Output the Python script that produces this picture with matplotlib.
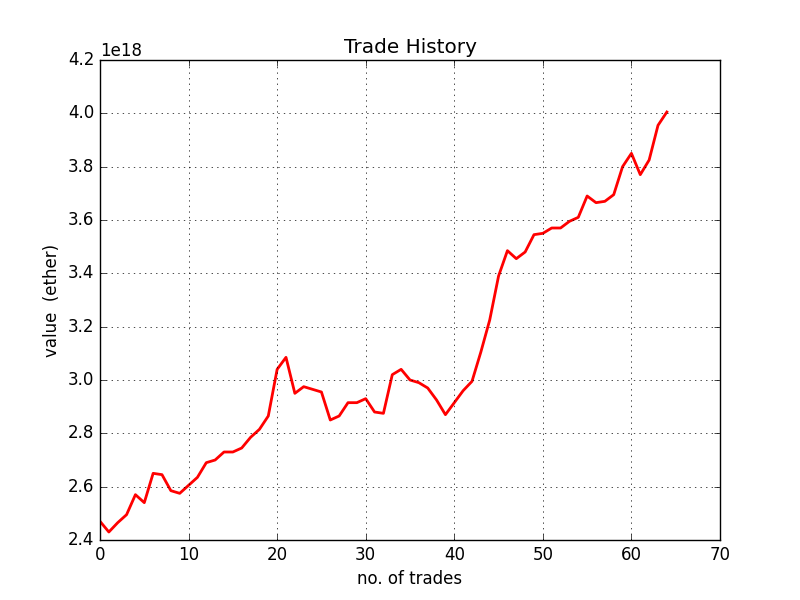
import matplotlib
matplotlib.use("Agg")
import matplotlib.pyplot as plt
import numpy as np

plt.style.use('classic')

# trade values (ether, scaled by 1e18)
values = [2.47, 2.43, 2.465, 2.495, 2.57, 2.54, 2.65, 2.645, 2.585, 2.575,
          2.605, 2.635, 2.69, 2.70, 2.73, 2.73, 2.745, 2.785, 2.815, 2.865,
          3.04, 3.085, 2.95, 2.975, 2.965, 2.955, 2.85, 2.865, 2.915, 2.915,
          2.93, 2.88, 2.875, 3.02, 3.04, 3.0, 2.99, 2.97, 2.925, 2.87,
          2.915, 2.96, 2.995, 3.105, 3.225, 3.39, 3.485, 3.455, 3.48, 3.545,
          3.55, 3.57, 3.57, 3.595, 3.61, 3.69, 3.665, 3.67, 3.695, 3.80,
          3.85, 3.77, 3.825, 3.955, 4.005]
values = np.array(values) * 1e18
trades = np.arange(len(values))

fig, ax = plt.subplots(figsize=(8, 6), dpi=100)
ax.plot(trades, values, color='red', linewidth=2)
ax.set_xlim(0, 70)
ax.set_ylim(2.4e18, 4.2e18)
ax.grid(True)
ax.set_title('Trade History')
ax.set_xlabel('no. of trades')
ax.set_ylabel('value  (ether)')
fig.savefig('out.png', dpi=100)
